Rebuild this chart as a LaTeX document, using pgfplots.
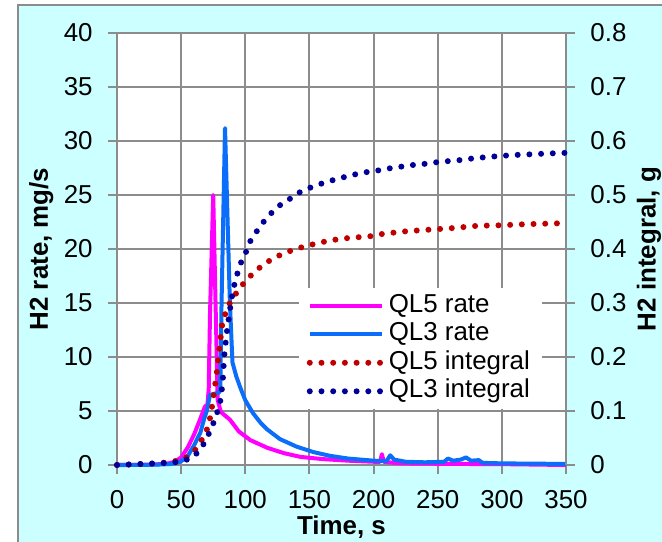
\documentclass[border=0pt]{standalone}
\usepackage{fontspec}
\setmainfont{Liberation Sans}
\usepackage{pgfplots}
\pgfplotsset{compat=1.18}

\definecolor{bgcyan}{HTML}{CCFFFF}
\definecolor{gridgray}{HTML}{8C8C8C}
\definecolor{ql5rate}{HTML}{FF00FF}
\definecolor{ql3rate}{HTML}{0A6EFA}
\definecolor{ql5int}{HTML}{C00000}
\definecolor{ql3int}{HTML}{000099}

\newcommand\chartfont{\fontsize{13}{15}\selectfont}

\tikzset{
  rateline/.style={line width=2bp, line join=round},
  dotline/.style={line width=3bp, line cap=round, dash pattern=on 0bp off 5.85bp},
}

\pgfplotsset{
  common/.style={
    at={(0,0)}, anchor=south west,
    scale only axis, width=224.5bp, height=216bp,
    xmin=0, xmax=350, clip=false,
    tick align=outside,
    major tick length=4.5bp,
    axis line style={gridgray, line width=1bp},
    major tick style={gridgray, line width=1bp},
    tick label style={font=\chartfont, /pgf/number format/assume math mode=true},
    label style={font=\chartfont\bfseries},
  },
}

% QL5 rate, mg/s
\pgfplotstableread{
t r
0 0
10 0
20 0.02
30 0.05
40 0.15
45 0.3
50 0.7
55 1.6
60 2.8
65 4.3
68.5 5.4
70.5 5.6
71.5 7
72.5 14
75 25
77 14
78.5 6
81 4.9
85 4.5
88 4.2
95 3.1
104 2.3
117 1.6
130 1.1
143 0.75
160 0.55
180 0.4
200 0.3
205 0.3
206.5 1.0
208 0.3
220 0.15
260 0.1
300 0.08
350 0.0
}\qlfiverate

% QL3 rate, mg/s
\pgfplotstableread{
t r
0 0
20 0.01
30 0.03
40 0.08
45 0.15
50 0.35
55 0.8
60 1.8
65 3.0
68 4.3
70 5.0
72.5 6.5
79.5 6.7
80.5 7
81.5 15
84.2 31.2
88 15
90 9.5
93 8.2
96 7.2
100 6.0
106 4.8
112 3.9
117 3.3
127 2.4
140 1.7
153 1.2
166 0.85
180 0.6
200 0.4
210 0.35
213 0.9
216 0.5
225 0.3
240 0.25
255 0.3
258 0.6
262 0.4
268 0.5
272 0.7
276 0.4
282 0.45
285 0.2
300 0.15
350 0.1
}\qlthreerate

% QL5 integral, g
\pgfplotstableread{
t g
0 0
10 0.001
20 0.002
30 0.003
40 0.005
45 0.007
50 0.01
54 0.014
61 0.028
66 0.046
70 0.065
72 0.08
74 0.107
76 0.14
78 0.176
80 0.22
82 0.26
85 0.285
88 0.30
94 0.322
100.5 0.342
107 0.357
114 0.371
122 0.383
131 0.393
139.5 0.400
148 0.406
157 0.411
166 0.416
179 0.420
189 0.422
199 0.424
207 0.428
226 0.433
245 0.436
263 0.439
281 0.443
300 0.444
319 0.446
337 0.447
350 0.448
}\qlfiveint

% QL3 integral, g
\pgfplotstableread{
t g
0 0
20 0.002
40 0.004
45 0.005
51 0.007
59 0.014
65.5 0.03
70 0.05
74 0.07
77 0.09
80 0.11
81.5 0.135
82.5 0.157
83.5 0.2
85.5 0.244
88 0.287
90.5 0.325
93.5 0.352
96.5 0.374
100.5 0.394
103.5 0.413
109 0.433
114.5 0.451
120.5 0.467
127.5 0.482
135.5 0.494
142.5 0.505
152 0.515
160.5 0.522
169 0.528
178.5 0.534
187 0.539
196 0.543
205 0.546
214 0.55
223 0.553
232 0.556
241.5 0.558
250 0.561
259.5 0.563
269 0.565
278 0.568
287.5 0.57
297 0.572
309 0.574
319 0.575
328 0.576
337.5 0.577
350 0.578
}\qlthreeint

\begin{document}
\begin{tikzpicture}
\path[use as bounding box] (-58.5bp,-38.5bp) rectangle (272.5bp,232.5bp);
\fill[bgcyan] (-49.5bp,-38.5bp) rectangle (272.5bp,230bp);
\draw[gridgray, line width=1bp] (-49.5bp,-38.5bp) -- (-49.5bp,230bp) -- (272.5bp,230bp);

\begin{axis}[
  common,
  ymin=0, ymax=40,
  xtick={0,50,...,350}, ytick={0,5,...,40},
  xtick pos=bottom, ytick pos=left,
  grid=major, major grid style={gridgray, line width=1bp},
  axis background/.style={fill=white},
  xticklabel style={anchor=north, inner sep=0pt, yshift=-8bp},
  yticklabel style={anchor=east, inner sep=0pt, xshift=-7.5bp},
  xlabel={Time, s},
  xlabel style={at={(axis description cs:0.5,-0.162)}, anchor=base},
  ylabel={H2 rate, mg/s},
  ylabel style={at={(axis description cs:-0.169,0.5)}, anchor=center},
]
\addplot[rateline, ql5rate] table[x=t, y=r] {\qlfiverate};
\addplot[rateline, ql3rate] table[x=t, y=r] {\qlthreerate};
\end{axis}

\begin{axis}[
  common,
  ymin=0, ymax=0.8,
  axis x line=none, axis y line*=right,
  ytick={0,0.1,0.2,0.3,0.4,0.5,0.6,0.7,0.8},
  yticklabel style={anchor=west, inner sep=0pt, xshift=7.5bp,
    /pgf/number format/fixed, /pgf/number format/precision=1},
  ylabel={H2 integral, g},
  ylabel style={at={(axis description cs:1.185,0.5)}, anchor=center},
  legend image code/.code={\draw[#1] (0bp,0bp) -- (36bp,0bp);},
  legend cell align=left,
  legend style={at={(0.404,0.41)}, anchor=north west, fill=white, draw=none,
    font=\chartfont, inner xsep=4bp, inner ysep=2bp, row sep=0.75bp,
    nodes={inner ysep=0.5bp, text height=9.5bp, text depth=3bp}},
]
\addlegendimage{rateline, ql5rate}
\addlegendentry{QL5 rate}
\addlegendimage{rateline, ql3rate}
\addlegendentry{QL3 rate}
\addplot[dotline, ql5int] table[x=t, y=g] {\qlfiveint};
\addlegendentry{QL5 integral}
\addplot[dotline, ql3int] table[x=t, y=g] {\qlthreeint};
\addlegendentry{QL3 integral}
\end{axis}
\end{tikzpicture}
\end{document}
